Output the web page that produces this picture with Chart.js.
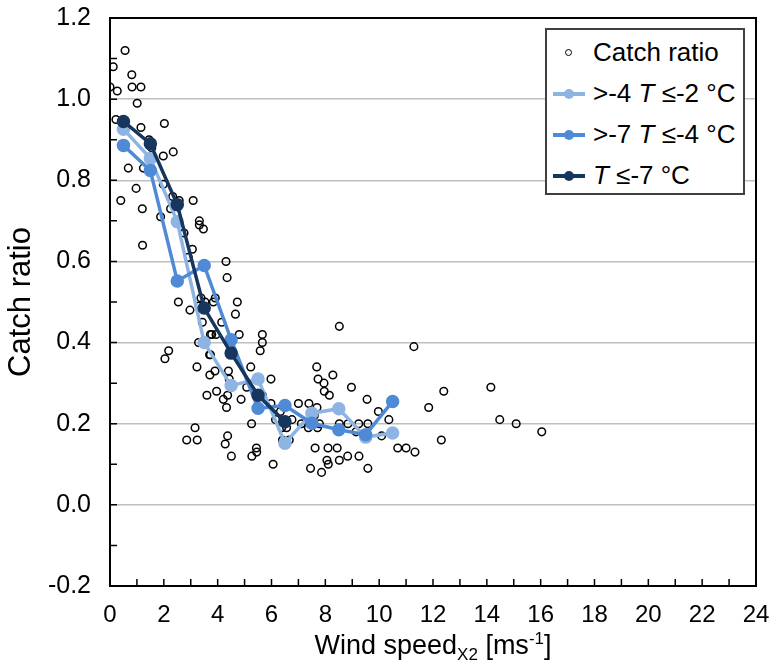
<!DOCTYPE html>
<html>
<head>
<meta charset="utf-8">
<script src="https://cdn.jsdelivr.net/npm/chart.js@4.4.1/dist/chart.umd.min.js"></script>
<style>
body { margin: 0; background: #fff; font-family: "Liberation Sans", Arial, sans-serif; }
#wrap { position: relative; width: 773px; height: 669px; }
#xTitle { position: absolute; left: 110px; width: 646px; top: 622px; text-align: center; font-size: 27px; color: #000; line-height: 34px; }
#xTitle sub, #xTitle sup { font-size: 17px; }
#legend { position: absolute; left: 545px; top: 28px; width: 200px; height: 167px; border: 2px solid #404040;
  background: #fff; box-sizing: border-box; font-size: 26px; padding-top: 2px; white-space: nowrap; }
.row { display: flex; align-items: center; height: 41px; }
.mark { width: 32px; margin-left: 6px; margin-right: 8px; position: relative; height: 20px; }
.mark .ln { position: absolute; left: 0; right: 0; top: 8px; height: 4px; }
.mark .dt { position: absolute; left: 11px; top: 5px; width: 10px; height: 10px; border-radius: 50%; }
.mark .oc { position: absolute; left: 12px; top: 6px; width: 5px; height: 5px; border-radius: 50%; border: 1.5px solid #000; }
</style>
</head>
<body>
<div id="wrap">
  <canvas id="windChart" width="773" height="669"></canvas>
  <div id="xTitle">Wind speed<sub>X2</sub> [ms<sup>-1</sup>]</div>
  <div id="legend">
    <div class="row"><div class="mark"><div class="oc"></div></div>Catch ratio</div>
    <div class="row"><div class="mark"><div class="ln" style="background:#8db4e2"></div><div class="dt" style="background:#8db4e2"></div></div>&gt;-4 <i>&nbsp;T</i>&nbsp;≤-2 °C</div>
    <div class="row"><div class="mark"><div class="ln" style="background:#4f8ad6"></div><div class="dt" style="background:#4f8ad6"></div></div>&gt;-7 <i>&nbsp;T</i>&nbsp;≤-4 °C</div>
    <div class="row"><div class="mark"><div class="ln" style="background:#17365d"></div><div class="dt" style="background:#17365d"></div></div><i>T</i>&nbsp;≤-7 °C</div>
  </div>
</div>
<script>
// individual catch ratio observations
const windSpeed = [0.56, 0.12, 0.81, 0.00, 0.27, 0.82, 1.15, 1.01, 0.22, 1.15, 2.02, 1.45, 1.55, 1.98, 2.35, 0.68, 1.24, 0.97, 1.98, 0.40,
  1.20, 2.33, 2.25, 2.57, 3.09, 1.88, 2.45, 3.32, 3.32, 3.47, 2.75, 3.06, 2.91, 1.21, 4.31, 4.35, 2.54, 2.97, 3.38, 3.31,
  3.53, 3.84, 3.91, 4.73, 4.66, 4.15, 3.43, 3.73, 3.78, 3.94, 4.80, 5.66, 5.66, 5.58, 3.29, 3.73, 3.70, 2.18, 2.04, 3.23,
  3.90, 3.71, 4.40, 4.43, 5.23, 5.98, 3.96, 3.60, 4.37, 4.21, 4.87, 5.08, 5.66, 4.33, 6.15, 6.33, 5.98, 7.00, 6.76, 6.38,
  6.56, 6.41, 6.66, 5.26, 3.16, 2.85, 3.24, 4.28, 4.37, 4.51, 5.27, 5.44, 5.45, 6.06, 7.11, 7.39, 7.59, 7.69, 7.37, 7.71,
  7.78, 7.68, 7.73, 7.95, 7.96, 8.15, 8.28, 8.52, 7.62, 7.45, 7.86, 8.10, 8.06, 8.11, 8.44, 8.52, 8.83, 8.52, 8.84, 8.97,
  9.24, 9.58, 9.14, 9.55, 9.25, 9.58, 9.97, 10.09, 10.36, 10.69, 11.29, 12.40, 14.15, 11.84, 14.48, 15.09, 16.04, 12.31, 11.00, 11.33];
const catchRatio = [1.12, 1.08, 1.06, 1.03, 1.02, 1.03, 1.03, 0.99, 0.95, 0.93, 0.94, 0.90, 0.88, 0.86, 0.87, 0.83, 0.83, 0.78, 0.79, 0.75,
  0.73, 0.76, 0.73, 0.75, 0.75, 0.71, 0.70, 0.70, 0.69, 0.68, 0.67, 0.63, 0.61, 0.64, 0.60, 0.56, 0.50, 0.48, 0.51, 0.49,
  0.50, 0.50, 0.51, 0.50, 0.47, 0.45, 0.45, 0.42, 0.42, 0.42, 0.42, 0.42, 0.40, 0.38, 0.40, 0.37, 0.37, 0.38, 0.36, 0.34,
  0.33, 0.32, 0.33, 0.31, 0.34, 0.31, 0.28, 0.27, 0.27, 0.26, 0.26, 0.29, 0.27, 0.24, 0.21, 0.23, 0.25, 0.25, 0.21, 0.19,
  0.19, 0.16, 0.16, 0.20, 0.19, 0.16, 0.16, 0.15, 0.17, 0.12, 0.12, 0.14, 0.13, 0.10, 0.20, 0.25, 0.22, 0.24, 0.19, 0.19,
  0.20, 0.34, 0.31, 0.30, 0.28, 0.27, 0.32, 0.44, 0.14, 0.09, 0.08, 0.14, 0.11, 0.10, 0.14, 0.11, 0.12, 0.20, 0.20, 0.29,
  0.20, 0.20, 0.18, 0.26, 0.12, 0.09, 0.23, 0.17, 0.21, 0.14, 0.39, 0.28, 0.29, 0.24, 0.21, 0.20, 0.18, 0.16, 0.14, 0.13];

// bin means by temperature class
const binCentres = [0.5, 1.5, 2.5, 3.5, 4.5, 5.5, 6.5, 7.5, 8.5, 9.5, 10.5];
const warmMeans = [0.926, 0.854, 0.698, 0.400, 0.294, 0.310, 0.152, 0.226, 0.237, 0.167, 0.177];   // >-4 T <=-2
const midMeans = [0.886, 0.824, 0.552, 0.590, 0.407, 0.238, 0.245, 0.201, 0.185, 0.173, 0.255];    // >-7 T <=-4
const coldMeans = [0.945, 0.890, 0.740, 0.485, 0.374, 0.270, 0.205];                                // T <=-7

const xTicks = [0, 2, 4, 6, 8, 10, 12, 14, 16, 18, 20, 22, 24];

function pairs(xs, ys) {
    return ys.map((y, i) => ({ x: xs[i], y: y }));
}

// black frame plus the small inward ticks
const frameTicks = {
    id: 'frameTicks',
    afterDraw(chart) {
        const ctx = chart.ctx;
        const a = chart.chartArea;
        const xs = chart.scales.x, ys = chart.scales.y;
        ctx.save();
        ctx.strokeStyle = '#000';
        ctx.lineWidth = 1.5;
        ctx.beginPath();
        for (let v = 1; v < 24; v++) {
            const px = xs.getPixelForValue(v);
            ctx.moveTo(px, a.bottom);
            ctx.lineTo(px, a.bottom - 7);
        }
        for (let k = -1; k < 12; k++) {
            const py = ys.getPixelForValue(k / 10);
            ctx.moveTo(a.left, py);
            ctx.lineTo(a.left + 7, py);
        }
        ctx.stroke();
        ctx.lineWidth = 2;
        ctx.strokeRect(a.left, a.top, a.right - a.left, a.bottom - a.top);
        ctx.restore();
    }
};

const fontFamily = '"Liberation Sans", Arial, sans-serif';

new Chart(document.getElementById('windChart').getContext('2d'), {
    type: 'scatter',
    data: {
        datasets: [{
            label: 'Catch ratio',
            data: pairs(windSpeed, catchRatio),
            pointStyle: 'circle',
            pointRadius: 3.8,
            pointBorderWidth: 1.5,
            borderColor: '#000',
            backgroundColor: 'rgba(0,0,0,0)',
            order: 4
        }, {
            label: '>-4 T ≤-2 °C',
            data: pairs(binCentres, warmMeans),
            showLine: true,
            borderColor: '#8db4e2',
            backgroundColor: '#8db4e2',
            borderWidth: 3.5,
            pointRadius: 5,
            order: 3
        }, {
            label: '>-7 T ≤-4 °C',
            data: pairs(binCentres, midMeans),
            showLine: true,
            borderColor: '#4f8ad6',
            backgroundColor: '#4f8ad6',
            borderWidth: 3.5,
            pointRadius: 5,
            order: 2
        }, {
            label: 'T ≤-7 °C',
            data: pairs(binCentres, coldMeans),
            showLine: true,
            borderColor: '#17365d',
            backgroundColor: '#17365d',
            borderWidth: 3.5,
            pointRadius: 5,
            order: 1
        }]
    },
    options: {
        responsive: false,
        animation: false,
        layout: { padding: { top: 18, right: 17, left: 0, bottom: 0 } },
        scales: {
            x: {
                type: 'linear',
                min: 0,
                max: 24,
                afterBuildTicks: scale => { scale.ticks = xTicks.map(v => ({ value: v })); },
                afterFit: scale => {
                    scale.height = 83;
                    scale.paddingLeft = 0;
                    scale.paddingRight = 0;
                },
                grid: { display: false, drawTicks: false },
                border: { display: true, color: '#000', width: 2 },
                ticks: { color: '#000', font: { family: fontFamily, size: 24 }, padding: 15, maxRotation: 0 }
            },
            y: {
                min: -0.2,
                max: 1.2,
                afterFit: scale => {
                    scale.width = 110;
                    scale.paddingTop = 0;
                    scale.paddingBottom = 0;
                },
                grid: { color: '#bfbfbf', lineWidth: 1.5, drawTicks: false },
                border: { display: true, color: '#000', width: 2 },
                ticks: {
                    stepSize: 0.2,
                    color: '#000',
                    font: { family: fontFamily, size: 25 },
                    padding: 19,
                    callback: v => (Math.round(v * 10) / 10).toFixed(1)
                },
                title: {
                    display: true,
                    text: 'Catch ratio',
                    color: '#000',
                    font: { family: fontFamily, size: 31 },
                    padding: { top: 3, bottom: 0 }
                }
            }
        },
        plugins: {
            legend: { display: false },
            tooltip: { enabled: false }
        }
    },
    plugins: [frameTicks]
});
</script>
</body>
</html>
